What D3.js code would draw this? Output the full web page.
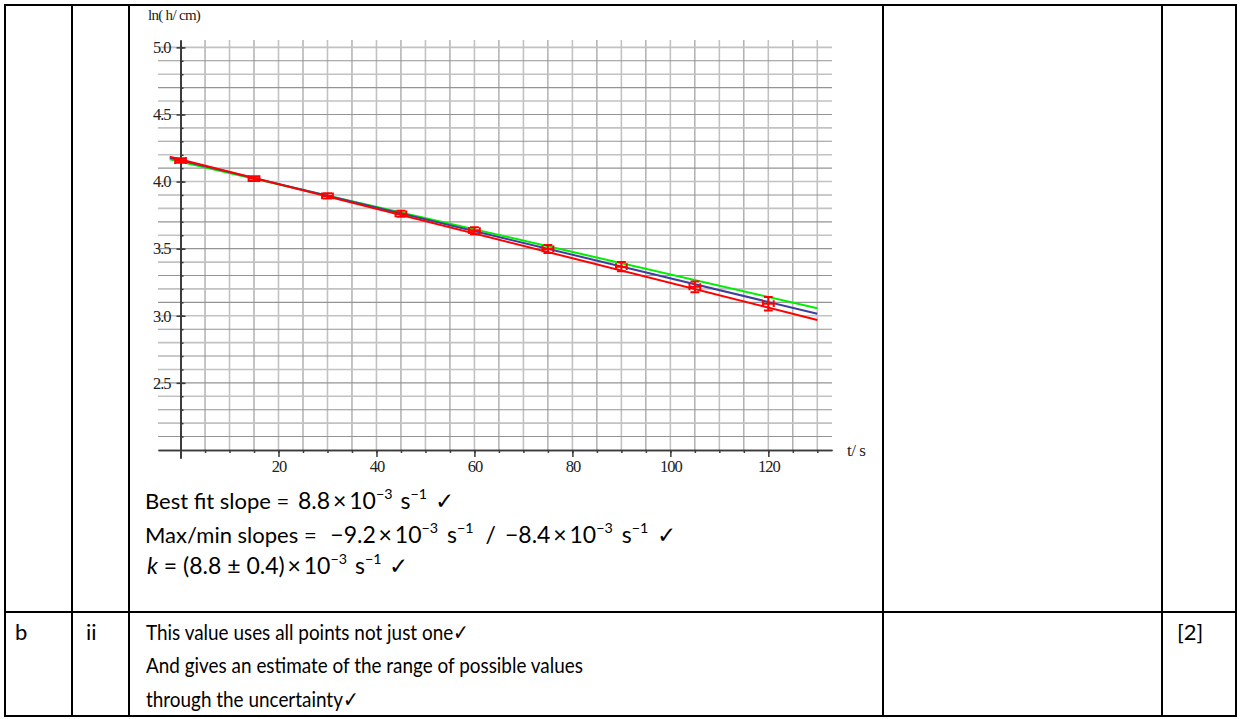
<!DOCTYPE html>
<html>
<head>
<meta charset="utf-8">
<script src="https://cdn.jsdelivr.net/npm/d3@7"></script>
<style>
  html, body { margin: 0; padding: 0; background: #fff; }
  svg { display: block; }
</style>
</head>
<body>
<svg width="1240" height="719"></svg>
<script>
// data
var times = [0, 15, 30, 45, 60, 75, 90, 105, 120];
var lnH = [4.157, 4.022, 3.893, 3.760, 3.634, 3.498, 3.366, 3.216, 3.090];
var lnHErr = [0.016, 0.018, 0.020, 0.023, 0.026, 0.030, 0.035, 0.040, 0.050];
var timeErr = [1.1, 1.1, 1.1, 1.1, 1.1, 1.1, 1.1, 1.1, 1.1];

// fitted lines, end points
var fitT = [-2.2, 130];
var minSlopeLine = [4.166, 3.056];
var bestFitLine = [4.178, 3.015];
var maxSlopeLine = [4.185, 2.969];

var xTicks = [20, 40, 60, 80, 100, 120];
var yTicks = [2.5, 3.0, 3.5, 4.0, 4.5, 5.0];

var svg = d3.select("svg");

var x = d3.scaleLinear().domain([-4.6, 133]).range([158, 832]);
var y = d3.scaleLinear().domain([1.94, 5.055]).range([458, 40]);

var g = svg.append("g");

// grid
var vGrid = d3.range(5, 131, 5);
var hGrid = d3.range(21, 51).map(function(d) { return d / 10; });

g.selectAll(".vgrid").data(vGrid).enter().append("line")
  .attr("x1", function(d) { return x(d); }).attr("x2", function(d) { return x(d); })
  .attr("y1", y(5.055)).attr("y2", y(2))
  .attr("stroke", function(d) { return d % 10 == 0 ? "#c2c2c2" : "#949494"; })
  .attr("stroke-width", function(d) { return d % 10 == 0 ? 1.6 : 1.1; });

g.selectAll(".hgrid").data(hGrid).enter().append("line")
  .attr("x1", x(-4.6)).attr("x2", x(133))
  .attr("y1", function(d) { return y(d); }).attr("y2", function(d) { return y(d); })
  .attr("stroke", function(d) { return Math.round(d * 10) % 2 == 0 ? "#c2c2c2" : "#949494"; })
  .attr("stroke-width", function(d) { return Math.round(d * 10) % 2 == 0 ? 1.6 : 1.1; });

// axes
g.append("g")
  .attr("transform", "translate(0," + y(2) + ")")
  .call(d3.axisBottom(x).tickValues(xTicks).tickSize(7).tickSizeOuter(0).tickPadding(3));
g.append("g")
  .attr("transform", "translate(" + x(0) + ",0)")
  .call(d3.axisLeft(y).tickValues(yTicks).tickSize(4).tickSizeOuter(0).tickPadding(6)
    .tickFormat(d3.format(".1f")));

// minor ticks
g.append("g").attr("transform", "translate(0," + y(2) + ")")
  .call(d3.axisBottom(x).tickValues(vGrid).tickSize(3).tickSizeOuter(0).tickFormat(""));
g.append("g").attr("transform", "translate(" + x(0) + ",0)")
  .call(d3.axisRight(y).tickValues(hGrid).tickSize(3).tickSizeOuter(0).tickFormat(""));
g.append("g").attr("transform", "translate(" + x(0) + ",0)")
  .call(d3.axisRight(y).tickValues(yTicks).tickSize(5).tickSizeOuter(0).tickFormat(""));

g.selectAll(".domain, .tick line").attr("stroke", "#3a3a3a").attr("stroke-width", 1.5);
g.selectAll(".tick text")
  .attr("font-family", "'Liberation Serif', 'DejaVu Serif', serif")
  .attr("font-size", 16.5)
  .attr("letter-spacing", "-1px")
  .attr("fill", "#222");

// axis names
g.append("text").attr("x", 148).attr("y", 20)
  .attr("font-family", "'Liberation Serif', serif").attr("font-size", 15)
  .attr("letter-spacing", "-0.7px").attr("fill", "#222")
  .text("ln( h/ cm)");
g.append("text").attr("x", 847).attr("y", 456)
  .attr("font-family", "'Liberation Serif', serif").attr("font-size", 17)
  .attr("letter-spacing", "-0.5px").attr("fill", "#222")
  .text("t/ s");

// fit lines
var lines = [
  {vals: minSlopeLine, color: "#00ee00"},
  {vals: bestFitLine, color: "#3f3f9f"},
  {vals: maxSlopeLine, color: "#ff0000"}
];
var line = d3.line()
  .x(function(d) { return x(d[0]); })
  .y(function(d) { return y(d[1]); });

g.selectAll(".fit").data(lines).enter().append("path")
  .attr("d", function(l) { return line(d3.zip(fitT, l.vals)); })
  .attr("fill", "none")
  .attr("stroke", function(l) { return l.color; })
  .attr("stroke-width", 2);

// points with error bars
var pts = d3.range(times.length).map(function(i) {
  return {t: times[i], v: lnH[i], dv: lnHErr[i], dt: timeErr[i]};
});
var pg = g.selectAll(".pt").data(pts).enter().append("g")
  .attr("stroke", "#ff0000").attr("stroke-width", 2).attr("fill", "none");
var cap = 3.4;
pg.append("path").attr("d", function(d) {
  var cx = x(d.t), cy = y(d.v);
  var x0 = x(d.t - d.dt), x1 = x(d.t + d.dt);
  var y0 = y(d.v + d.dv), y1 = y(d.v - d.dv);
  return "M" + x0 + "," + cy + "H" + x1 +
    "M" + x0 + "," + (cy - cap) + "V" + (cy + cap) +
    "M" + x1 + "," + (cy - cap) + "V" + (cy + cap) +
    "M" + cx + "," + y0 + "V" + y1 +
    "M" + (cx - cap - 1) + "," + y0 + "H" + (cx + cap + 1) +
    "M" + (cx - cap - 1) + "," + y1 + "H" + (cx + cap + 1);
});

// table borders
var colX = [5, 72, 129, 883, 1162, 1236];
var rowY = [5, 612, 716];
var tb = svg.append("g").attr("stroke", "#000").attr("stroke-width", 2);
colX.forEach(function(cx) {
  tb.append("line").attr("x1", cx).attr("x2", cx).attr("y1", rowY[0] - 1).attr("y2", rowY[2] + 1);
});
rowY.forEach(function(ry) {
  tb.append("line").attr("x1", colX[0] - 1).attr("x2", colX[5] + 1).attr("y1", ry).attr("y2", ry);
});

// text in the cells
var bodyFont = "Lato, 'Open Sans', sans-serif";
var fs = 22, ms = 23;
function richText(xp, yp, parts) {
  var t = svg.append("text").attr("x", xp).attr("y", yp)
    .attr("font-family", bodyFont).attr("font-size", fs).attr("fill", "#000");
  var raised = false;
  parts.forEach(function(p) {
    var s = t.append("tspan").text(p.t);
    if (p.m) s.attr("font-size", ms);
    if (p.dx) s.attr("dx", p.dx);
    if (p.sup) {
      s.attr("font-size", ms * 0.62);
      if (!raised) { s.attr("dy", -10); raised = true; }
    } else if (raised) { s.attr("dy", 10); raised = false; }
    if (p.it) s.attr("font-style", "italic");
  });
  return t;
}

var times10 = "\u2009\u00d7\u200910";
richText(145, 509, [
  {t: "Best fit slope = "}, {t: "8.8" + times10, m: 1, dx: 3}, {t: "\u22123", sup: 1},
  {t: "s", m: 1, dx: 8}, {t: "\u22121", sup: 1}, {t: "\u2713", m: 1, dx: 8}]);
richText(145, 543, [
  {t: "Max/min slopes = "}, {t: "\u22129.2" + times10, m: 1, dx: 8}, {t: "\u22123", sup: 1},
  {t: "s", m: 1, dx: 9}, {t: "\u22121", sup: 1}, {t: "/", m: 1, dx: 12},
  {t: "\u22128.4" + times10, m: 1, dx: 9}, {t: "\u22123", sup: 1},
  {t: "s", m: 1, dx: 9}, {t: "\u22121", sup: 1}, {t: "\u2713", m: 1, dx: 9}]);
richText(147, 574, [
  {t: "k", it: 1, m: 1}, {t: " = (8.8 \u00b1 0.4)" + times10, m: 1}, {t: "\u22123", sup: 1},
  {t: "s", m: 1, dx: 8}, {t: "\u22121", sup: 1}, {t: "\u2713", m: 1, dx: 8}]);

// lower row, the text there is set narrower
var rowLines = ["This value uses all points not just one\u2713",
  "And gives an estimate of the range of possible values",
  "through the uncertainty\u2713"];
var lower = svg.append("g").attr("transform", "translate(146,0) scale(0.86,1)");
lower.selectAll(".rowtxt").data(rowLines).enter().append("text")
  .attr("x", 0).attr("y", function(d, i) { return 640 + i * 33.5; })
  .attr("font-family", bodyFont).attr("font-size", fs)
  .text(function(d) { return d; });
svg.append("text").attr("x", 15).attr("y", 640).attr("font-family", bodyFont).attr("font-size", fs).text("b");
svg.append("text").attr("x", 86).attr("y", 640).attr("font-family", bodyFont).attr("font-size", fs).text("ii");
svg.append("text").attr("x", 1177).attr("y", 640).attr("font-family", bodyFont).attr("font-size", fs).text("[2]");
</script>
</body>
</html>
